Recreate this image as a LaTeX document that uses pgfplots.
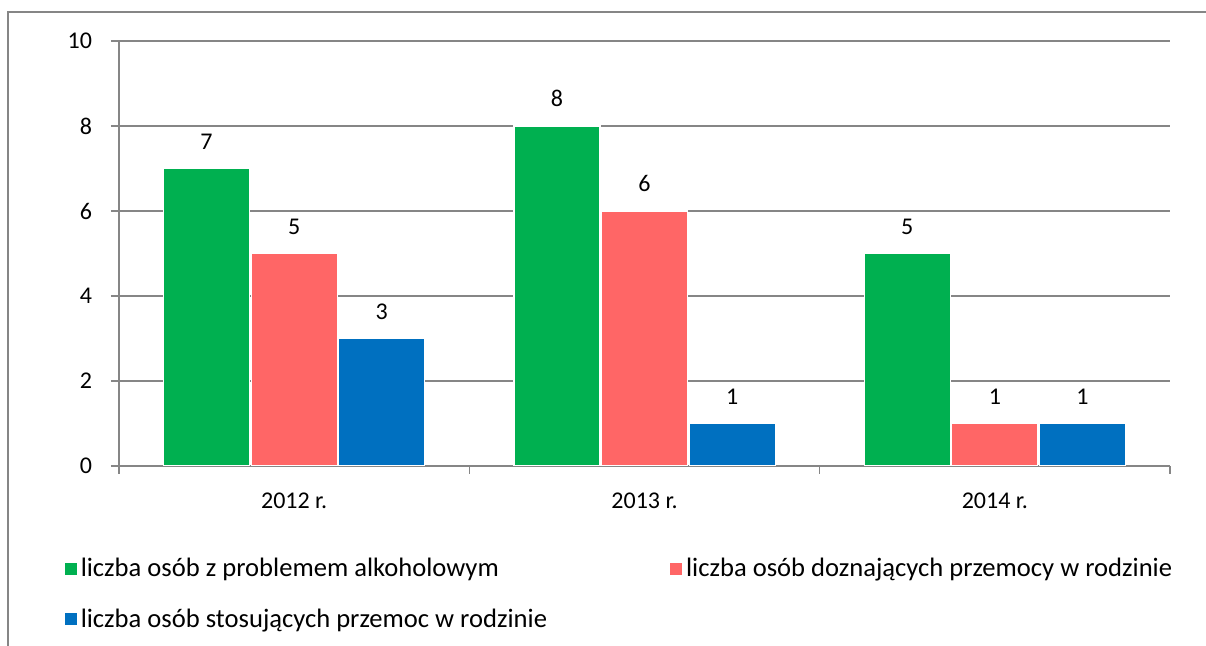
\documentclass[border=0pt]{standalone}
\usepackage{pgfplots}
\pgfplotsset{compat=1.18}
\usepackage{fontspec}
\setmainfont{Carlito}
\definecolor{cgreen}{HTML}{00B050}
\definecolor{cred}{HTML}{FF6666}
\definecolor{cblue}{HTML}{0070C0}
\definecolor{cgrid}{HTML}{868686}
\begin{document}
\begin{tikzpicture}
\useasboundingbox (0pt,0pt) rectangle (603pt,323pt);
\draw[cgrid, line width=0.8pt] (4pt,-10pt) -- (4pt,317pt) -- (620pt,317pt);
\begin{axis}[
  at={(59.5pt,90pt)}, anchor=south west,
  scale only axis, width=525.5pt, height=212.5pt,
  ybar=0.8pt, bar width=43pt,
  xmin=-0.5, xmax=2.5, ymin=0, ymax=10,
  ytick={0,2,...,10},
  xtick={-0.5,0.5,1.5,2.5}, xticklabels={},
  extra x ticks={0,1,2},
  extra x tick labels={2012 r.,2013 r.,2014 r.},
  extra x tick style={major tick length=0pt, grid=none},
  axis x line*=bottom, axis y line*=left,
  axis line style={cgrid, line width=0.8pt, -},
  ymajorgrids, grid style={cgrid, line width=0.8pt},
  major tick length=4pt, tick align=outside,
  tick style={cgrid, line width=0.8pt},
  ticklabel style={font=\fontsize{12}{14}\selectfont, black},
  /pgf/number format/assume math mode=true,
  xticklabel style={yshift=-10pt},
  yticklabel style={xshift=-6pt},
  nodes near coords,
  every node near coord/.append style={font=\fontsize{12}{14}\selectfont, black, yshift=6pt},
  legend columns=2,
  legend cell align=left,
  legend style={at={(-0.0577,-0.197)}, anchor=north west, draw=none, fill=none,
    font=\fontsize{13.3}{16}\selectfont,
    /tikz/every even column/.append style={column sep=59.5pt},
    row sep=10.5pt},
  legend image code/.code={\fill[#1,draw=none] (-5.5pt,-3pt) rectangle (0.5pt,3pt);},
]
\addplot[fill=cgreen, draw=white, line width=0.6pt] coordinates {(0,7) (1,8) (2,5)};
\addplot[fill=cred, draw=white, line width=0.6pt] coordinates {(0,5) (1,6) (2,1)};
\addplot[fill=cblue, draw=white, line width=0.6pt] coordinates {(0,3) (1,1) (2,1)};
\legend{liczba osób z problemem alkoholowym, liczba osób doznających przemocy w rodzinie, liczba osób stosujących przemoc w rodzinie}
\end{axis}
\end{tikzpicture}
\end{document}
